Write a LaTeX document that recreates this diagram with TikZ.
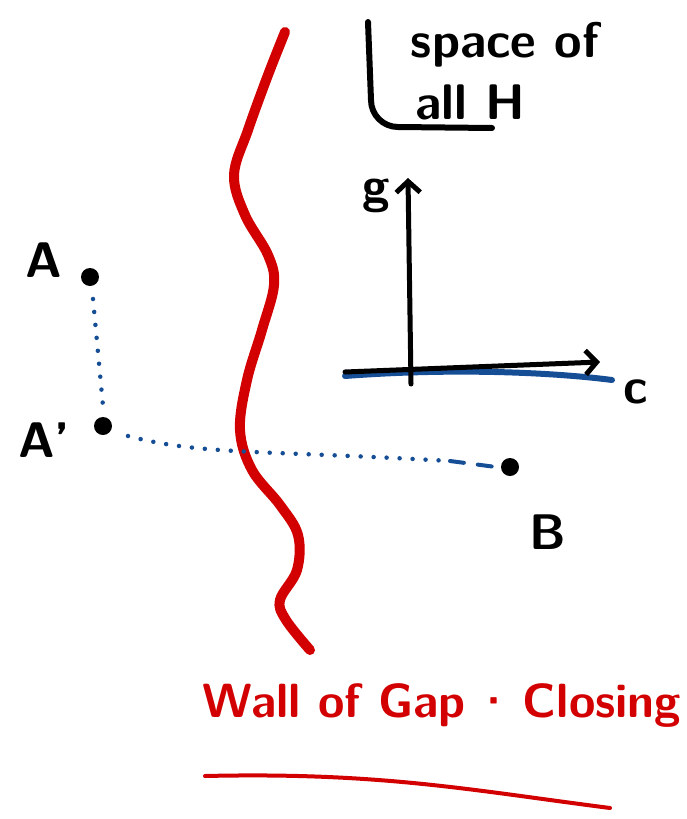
\documentclass[tikz,border=0pt]{standalone}
\usepackage{tikz}
\usepackage{amsmath}
\usetikzlibrary{calc,arrows.meta}

\definecolor{wallred}{RGB}{210,0,0}
\definecolor{trailblue}{RGB}{22,78,150}
\tikzset{
  spot/.style={circle,fill=black,inner sep=0pt,minimum size=18pt},
  hand/.style={font=\sffamily\bfseries\fontsize{50}{58}\selectfont},
  trail/.style={trailblue,line width=4.5pt,line cap=round,dash pattern=on 0pt off 13pt},
}

\begin{document}
\begin{tikzpicture}[x=1pt,y=-1pt]
        \useasboundingbox (0,0) rectangle (686,819);
        % wall
        \draw[wallred,line width=10pt,line cap=round,line join=round]
            plot[smooth,tension=0.6] coordinates {(285,32) (268,75) (248,130) (234,175) (245,215)
            (268,255) (274,285) (262,330) (247,380) (240,430) (252,470) (280,505) (298,535)
            (297,570) (280,600) (286,620) (310,650)};
        \draw
            (90,277) node[spot] (A){}
            (103,426) node[spot] (A1){}
            (510,467) node[spot] (B){}
            (44,260) node[hand] (lA){A}
            (44,440) node[hand] (lA1){A'}
            (548,532) node[hand] (lB){B}
            (376,196) node[hand] (lg){g}
            (636,392) node[hand] (lc){c}
            (505,45) node[hand] (l1){space of}
            (470,102) node[hand] (l2){all H}
            (442,705) node[hand,wallred,font=\sffamily\bfseries\fontsize{48}{56}\selectfont] (lwall){Wall of Gap\,\textperiodcentered\,Closing};
        \coordinate (o) at (411,384);
        \coordinate (gtip) at (408,178);
        \coordinate (cstart) at (345,372);
        \coordinate (ctip) at (600,362);
        \coordinate (ustart) at (345,376);
        \coordinate (uend) at (612,380);
        \coordinate (mid) at (450,461);
        % blue trails
        \draw[trail] ($(A)+(3,22)$) -- ($(A1)+(0,-20)$);
        \draw[trail] ($(A1)+(25,10)$) .. controls (200,455) and (260,450) .. (mid);
        \draw[trailblue,line width=4pt,line cap=round,dash pattern=on 14pt off 14pt] (mid) -- ($(B)+(-14,0)$);
        % axes
        \draw[trailblue,line width=6pt,line cap=round] (ustart) .. controls (450,368) and (550,372) .. (uend);
        \begin{scope}[-{Straight Barb[length=11pt,width=24pt]},line width=5pt,line cap=round]
            \draw (o) -- (gtip);
            \draw (cstart) -- (ctip);
        \end{scope}
        % bracket
        \draw[line width=6pt,line cap=round] (368,22) -- (371,100) to[out=-90,in=180] (398,127) -- (492,128);
        % underline
        \draw[wallred,line width=4pt,line cap=round] (205,776) .. controls (380,772) and (470,790) .. (610,808);
\end{tikzpicture}
\end{document}
